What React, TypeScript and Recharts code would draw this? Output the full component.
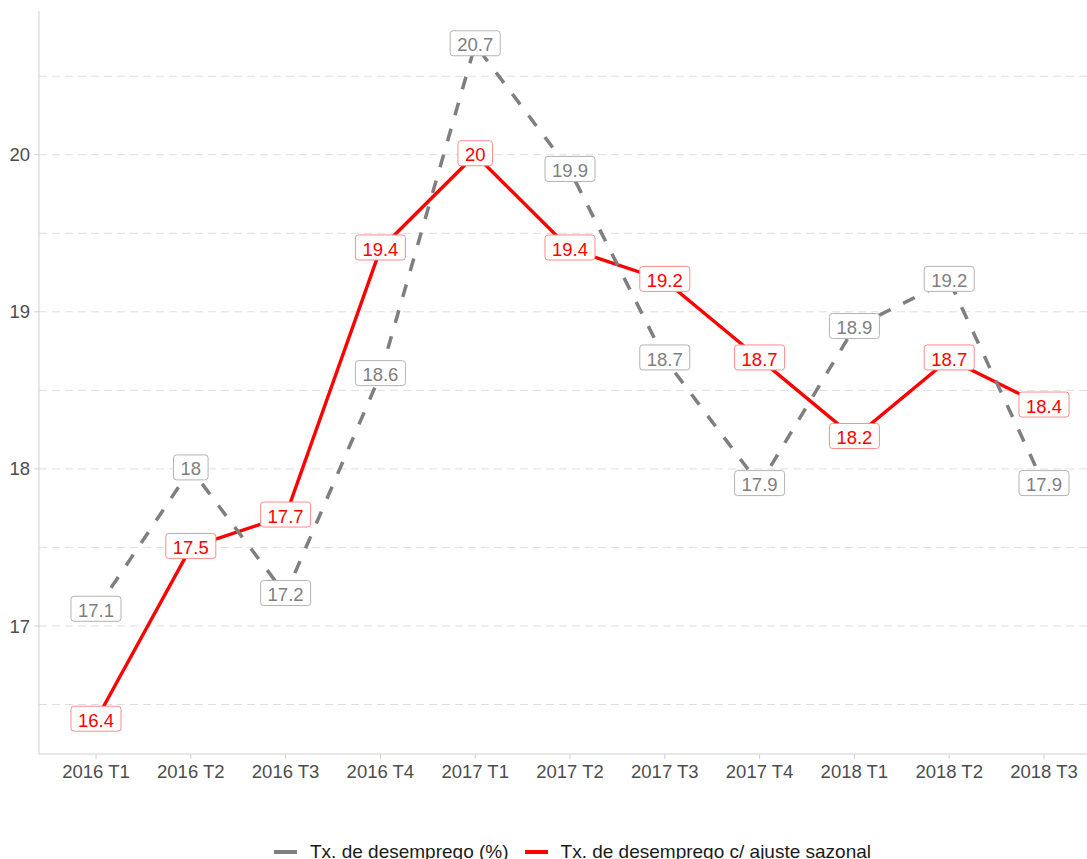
import React from "react";
import {
  LineChart,
  Line,
  XAxis,
  YAxis,
  CartesianGrid,
  Legend,
  LabelList,
} from "recharts";

const quarters = [
  "2016 T1",
  "2016 T2",
  "2016 T3",
  "2016 T4",
  "2017 T1",
  "2017 T2",
  "2017 T3",
  "2017 T4",
  "2018 T1",
  "2018 T2",
  "2018 T3",
];
const desemprego = [17.1, 18, 17.2, 18.6, 20.7, 19.9, 18.7, 17.9, 18.9, 19.2, 17.9];
const ajustada = [16.4, 17.5, 17.7, 19.4, 20, 19.4, 19.2, 18.7, 18.2, 18.7, 18.4];
const yTicks = [17, 18, 19, 20];
const gridValues = [16.5, 17, 17.5, 18, 18.5, 19, 19.5, 20, 20.5];
const seriesNames = ["Tx. de desemprego (%)", "Tx. de desemprego c/ ajuste sazonal"];

const GRAY = "#7f7f7f";
const RED = "#ff0000";
const FONT = "'Liberation Sans', Arial, sans-serif";

const data = quarters.map((q, i) => ({
  q,
  desemprego: desemprego[i],
  ajustada: ajustada[i],
}));

function makeLabel(color: string, border: string) {
  return (props: any) => {
    const vb = props.viewBox || {};
    const x = props.x ?? vb.x;
    const y = props.y ?? vb.y;
    if (x == null || y == null) return null;
    const text = String(props.value);
    const digits = text.replace(".", "").length;
    const dots = text.length - digits;
    const w = digits * 10.29 + dots * 5.14 + 14;
    return (
      <g>
        <rect
          x={x - w / 2}
          y={y - 14}
          width={w}
          height={25}
          rx={3}
          ry={3}
          fill="#fff"
          stroke={border}
          strokeWidth={1}
        />
        <text
          x={x}
          y={y + 6.6}
          textAnchor="middle"
          fill={color}
          fontSize={18.5}
          fontFamily={FONT}
        >
          {text}
        </text>
      </g>
    );
  };
}

function LegendContent() {
  const colors = [GRAY, RED];
  return (
    <div
      style={{
        display: "flex",
        alignItems: "center",
        height: 30,
        fontFamily: FONT,
        fontSize: 19,
        color: "#1a1a1a",
        whiteSpace: "nowrap",
      }}
    >
      {seriesNames.map((name, i) => (
        <div key={name} style={{ display: "flex", alignItems: "center", marginRight: 16 }}>
          <div style={{ width: 23, height: 4, background: colors[i], marginRight: 13 }} />
          <span style={{ lineHeight: "30px" }}>{name}</span>
        </div>
      ))}
    </div>
  );
}

export default function App() {
  return (
    <div
      style={{
        position: "fixed",
        left: 0,
        top: 0,
        width: 1087,
        height: 859,
        overflow: "hidden",
        background: "#fff",
      }}
    >
      <LineChart
        width={1120}
        height={880}
        data={data}
        margin={{ top: 11, right: 19, left: 0, bottom: 16 }}
      >
        <CartesianGrid
          vertical={false}
          horizontalValues={gridValues}
          stroke="#dedede"
          strokeDasharray="8 5"
        />
        <XAxis
          dataKey="q"
          interval={0}
          padding={{ left: 57, right: 57 }}
          height={80}
          tickSize={5}
          tickMargin={6}
          tick={{ fontSize: 18.5, fill: "#4d4d4d", fontFamily: FONT }}
          tickLine={{ stroke: "#d0d0d0" }}
          axisLine={{ stroke: "#d0d0d0" }}
        />
        <XAxis
          xAxisId="top"
          orientation="top"
          dataKey="q"
          height={0}
          padding={{ left: 57, right: 57 }}
          tick={false}
          tickLine={false}
          axisLine={{ stroke: "#d0d0d0" }}
        />
        <YAxis
          width={39}
          domain={[16.185, 20.915]}
          ticks={yTicks}
          allowDataOverflow
          tickSize={5}
          tickMargin={4}
          tick={{ fontSize: 18.5, fill: "#4d4d4d", fontFamily: FONT }}
          tickLine={{ stroke: "#d0d0d0" }}
          axisLine={{ stroke: "#d0d0d0" }}
        />
        <Legend
          content={<LegendContent />}
          verticalAlign="bottom"
          wrapperStyle={{ top: 837, bottom: "auto", left: 274, width: 800, height: 30 }}
        />
        <Line
          dataKey="ajustada"
          stroke={RED}
          strokeWidth={3.4}
          dot={false}
          activeDot={false}
          isAnimationActive={false}
        />
        <Line
          dataKey="desemprego"
          stroke={GRAY}
          strokeWidth={3.5}
          strokeDasharray="13 14"
          dot={false}
          activeDot={false}
          isAnimationActive={false}
        />
        <Line
          dataKey="desemprego"
          stroke="none"
          dot={false}
          activeDot={false}
          legendType="none"
          isAnimationActive={false}
        >
          <LabelList dataKey="desemprego" content={makeLabel(GRAY, "#b3b3b3")} />
        </Line>
        <Line
          dataKey="ajustada"
          stroke="none"
          dot={false}
          activeDot={false}
          legendType="none"
          isAnimationActive={false}
        >
          <LabelList dataKey="ajustada" content={makeLabel(RED, "#ff8c8c")} />
        </Line>
      </LineChart>
    </div>
  );
}
